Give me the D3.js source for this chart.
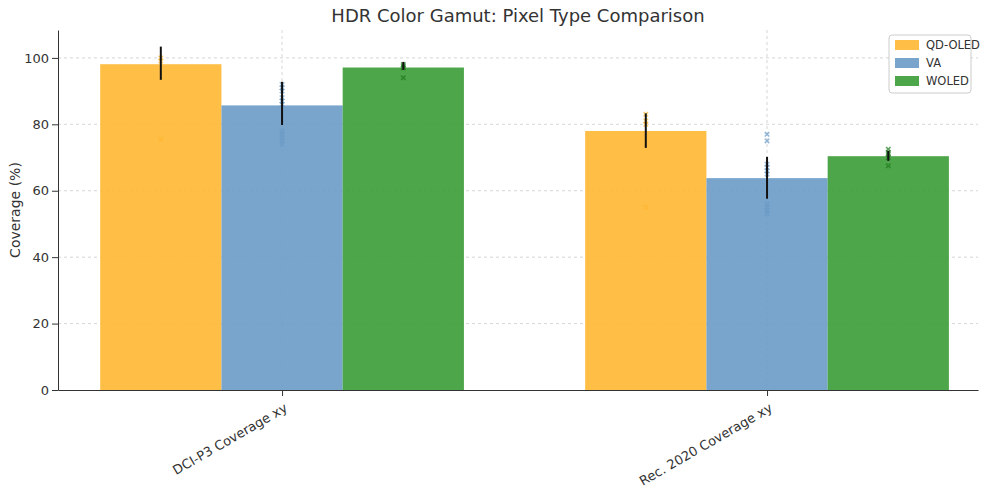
<!DOCTYPE html>
<html lang="en">
<head>
<meta charset="UTF-8">
<script src="https://d3js.org/d3.v7.min.js"></script>
<style>
  body { margin: 0; background: #fff; font-family: "DejaVu Sans", sans-serif; }
  .grid line { stroke: #ccc; stroke-dasharray: 3,3; stroke-width: 0.8px; }
  .axis text { font: 13px "DejaVu Sans", sans-serif; fill: #333; }
  .axis path, .axis line { stroke: #333; }
</style>
</head>
<body>
<svg width="1000" height="496"></svg>
<script>
// Data
const categories = ["DCI-P3 Coverage xy", "Rec. 2020 Coverage xy"];
const series = ["QD-OLED", "VA", "WOLED"];
const colors = ["#ffb732", "#6a9bc7", "#3a9c35"];
const means = [[98.1, 85.7, 97.1], [78.0, 63.8, 70.4]];
const errLow = [[93.4, 79.8, 96.4], [72.9, 57.6, 69.0]];
const errHigh = [[103.4, 92.8, 98.8], [83.3, 70.2, 72.0]];
const points = [
  [[100, 99, 75.5], [92, 91, 90, 88, 87, 86, 78, 77, 76, 75, 74], [98, 97.5, 97, 94]],
  [[83, 81, 80, 55], [77, 75, 68, 67, 66, 65, 56, 55, 54, 53], [72.5, 71.5, 71, 70, 67.5]]
];
const yTicks = [0, 20, 40, 60, 80, 100];

const svg = d3.select("svg"),
  margin = { top: 30, right: 22, bottom: 106, left: 58 },
  width = 1000 - margin.left - margin.right,
  height = 496 - margin.top - margin.bottom,
  g = svg.append("g").attr("transform", `translate(${margin.left},${margin.top})`);

const x = d3.scaleLinear().domain([-0.462, 1.435]).range([0, width]);
const y = d3.scaleLinear().domain([0, 108.4]).range([height, 0]);
const barW = 0.25;

// Grid
g.append("g").attr("class", "grid")
  .selectAll("line").data(yTicks.slice(1)).enter().append("line")
  .attr("x1", 0).attr("x2", width).attr("y1", d => y(d)).attr("y2", d => y(d));
g.append("g").attr("class", "grid")
  .selectAll("line").data(categories).enter().append("line")
  .attr("x1", (d, i) => x(i)).attr("x2", (d, i) => x(i)).attr("y1", 0).attr("y2", height);

// Bars
categories.forEach((c, i) => {
  series.forEach((s, j) => {
    const cx = i + (j - 1) * barW;
    g.append("rect")
      .attr("x", x(cx - barW / 2)).attr("width", x(barW) - x(0))
      .attr("y", y(means[i][j])).attr("height", y(0) - y(means[i][j]))
      .attr("fill", colors[j]).attr("opacity", 0.9);
  });
});

// Scatter points (x markers) and error bars
categories.forEach((c, i) => {
  series.forEach((s, j) => {
    const cx = i + (j - 1) * barW;
    const col = j === 2 ? "#1e7a1e" : colors[j];
    points[i][j].forEach(v => {
      const px = x(cx), py = y(v), r = 2.2;
      g.append("path")
        .attr("d", `M${px - r},${py - r}L${px + r},${py + r}M${px - r},${py + r}L${px + r},${py - r}`)
        .attr("stroke", col).attr("stroke-width", 1.6).attr("opacity", 0.7);
    });
    g.append("line")
      .attr("x1", x(cx)).attr("x2", x(cx))
      .attr("y1", y(errLow[i][j])).attr("y2", y(errHigh[i][j]))
      .attr("stroke", "#111").attr("stroke-width", 2);
  });
});

// Axes
g.append("g").attr("class", "axis")
  .attr("transform", `translate(0,${height})`)
  .call(d3.axisBottom(x).tickValues([0, 1]).tickFormat((d, i) => categories[i]).tickSizeOuter(0))
  .selectAll("text")
  .attr("text-anchor", "end")
  .attr("transform", "rotate(-30)")
  .attr("dx", "-0.4em").attr("dy", "0.9em");
g.append("g").attr("class", "axis")
  .call(d3.axisLeft(y).tickValues(yTicks).tickSizeOuter(0));

// Labels
svg.append("text")
  .attr("transform", `translate(20,${margin.top + height / 2}) rotate(-90)`)
  .attr("text-anchor", "middle").style("font-size", "14px").attr("fill", "#333")
  .text("Coverage (%)");
svg.append("text")
  .attr("x", margin.left + width / 2).attr("y", 22)
  .attr("text-anchor", "middle").style("font-size", "18px").attr("fill", "#333")
  .text("HDR Color Gamut: Pixel Type Comparison");

// Legend
const lg = svg.append("g").attr("transform", "translate(889,35)");
lg.append("rect").attr("width", 82).attr("height", 58).attr("fill", "#fff")
  .attr("stroke", "#ccc").attr("rx", 3);
series.forEach((s, j) => {
  lg.append("rect").attr("x", 6).attr("y", 5 + j * 18).attr("width", 24).attr("height", 10)
    .attr("fill", colors[j]).attr("opacity", 0.9);
  lg.append("text").attr("x", 37).attr("y", 14 + j * 18)
    .style("font-size", "11.5px").attr("fill", "#333").text(s);
});
</script>
</body>
</html>
